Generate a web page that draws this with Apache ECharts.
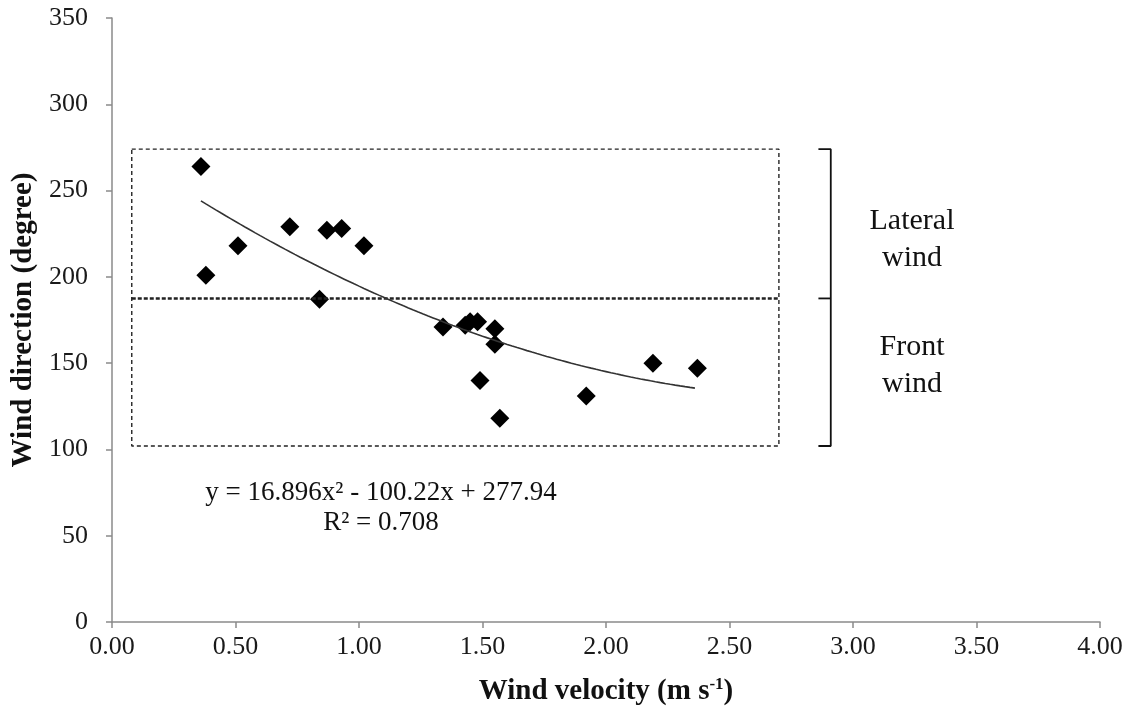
<!DOCTYPE html>
<html>
<head>
<meta charset="utf-8">
<script src="https://cdn.jsdelivr.net/npm/echarts@6/dist/echarts.min.js"></script>
<style>
  html, body { margin: 0; padding: 0; background: #fff; }
  #chart { width: 1134px; height: 718px; }
</style>
</head>
<body>
<div id="chart"></div>
<script>
// Measured wind velocity (m/s) and wind direction (degrees)
const windVelocity  = [0.36, 0.38, 0.51, 0.72, 0.87, 0.93, 1.02, 0.84, 1.34, 1.43, 1.45, 1.48, 1.55, 1.55, 1.49, 1.57, 1.92, 2.19, 2.37];
const windDirection = [264, 201, 218, 229, 227, 228, 218, 187, 171, 172, 174, 174, 170, 161, 140, 118, 131, 150, 147];

// Second-order polynomial fit: a*x^2 + b*x + c
const fitCoefficients = [16.896, -100.22, 277.94];
const fitR2 = 0.708;
const fitRange = [0.36, 2.36];

// Zone boundaries (degrees) and the x extent of the dashed box / bracket
const zoneTop = 274;
const zoneSplit = 187.5;
const zoneBottom = 102;
const boxX = [0.08, 2.70];
const bracketX = [2.86, 2.91];

const xTicks = { min: 0, max: 4, step: 0.5 };
const yTicks = { min: 0, max: 350, step: 50 };

const serif = '"Liberation Serif", "Times New Roman", serif';

const points = windVelocity.map((v, i) => [v, windDirection[i]]);

const [a, b, c] = fitCoefficients;
const fitLine = [];
for (let x = fitRange[0]; x <= fitRange[1] + 1e-9; x += 0.02) {
  fitLine.push([x, a * x * x + b * x + c]);
}

const boxOutline = [
  [boxX[0], zoneTop], [boxX[1], zoneTop], [boxX[1], zoneBottom],
  [boxX[0], zoneBottom], [boxX[0], zoneTop]
];
const splitLine = [[boxX[0], zoneSplit], [boxX[1], zoneSplit]];
const bracketLine = [
  [bracketX[0], zoneTop], [bracketX[1], zoneTop],
  [bracketX[1], zoneBottom], [bracketX[0], zoneBottom]
];
const bracketMid = [[bracketX[0], zoneSplit], [bracketX[1], zoneSplit]];

const eqText = 'y = ' + a + 'x² - ' + Math.abs(b) + 'x + ' + c;
const r2Text = 'R² = ' + fitR2;

const axisGray = '#8a8a8a';

const chart = echarts.init(document.getElementById('chart'));
chart.setOption({
  animation: false,
  backgroundColor: '#fff',
  grid: { left: 112, right: 34, top: 18, bottom: 96, containLabel: false, outerBoundsMode: 'none' },
  xAxis: {
    type: 'value',
    min: xTicks.min, max: xTicks.max, interval: xTicks.step,
    axisLine: { show: true, lineStyle: { color: axisGray, width: 1.5 } },
    axisTick: { show: true, length: 6, lineStyle: { color: axisGray, width: 1.5 } },
    splitLine: { show: false },
    axisLabel: {
      formatter: v => v.toFixed(2),
      fontFamily: serif, fontSize: 26, color: '#1a1a1a', margin: 12
    },
    name: '{t|Wind velocity (m s}{s|-1}{t|)}',
    nameLocation: 'middle',
    nameGap: 54,
    nameTextStyle: {
      rich: {
        t: { fontFamily: serif, fontSize: 29, fontWeight: 'bold', color: '#111', lineHeight: 32 },
        s: { fontFamily: serif, fontSize: 17, fontWeight: 'bold', color: '#111', verticalAlign: 'top', lineHeight: 32 }
      }
    }
  },
  yAxis: {
    type: 'value',
    min: yTicks.min, max: yTicks.max, interval: yTicks.step,
    axisLine: { show: true, lineStyle: { color: axisGray, width: 1.5 } },
    axisTick: { show: true, length: 6, lineStyle: { color: axisGray, width: 1.5 } },
    splitLine: { show: false },
    axisLabel: { fontFamily: serif, fontSize: 26, color: '#1a1a1a', margin: 24 },
    name: 'Wind direction (degree)',
    nameLocation: 'middle',
    nameRotate: 90,
    nameGap: 72,
    nameTextStyle: { fontFamily: serif, fontSize: 29, fontWeight: 'bold', color: '#111' }
  },
  series: [
    {
      type: 'line', data: boxOutline, symbol: 'none', silent: true,
      lineStyle: { color: '#222', width: 1.4, type: [4, 3] }
    },
    {
      type: 'line', data: splitLine, symbol: 'none', silent: true,
      lineStyle: { color: '#222', width: 2.6, type: [4, 2] }
    },
    {
      type: 'line', data: bracketLine, symbol: 'none', silent: true,
      lineStyle: { color: '#111', width: 1.8 }
    },
    {
      type: 'line', data: bracketMid, symbol: 'none', silent: true,
      lineStyle: { color: '#111', width: 1.8 }
    },
    {
      type: 'line', data: fitLine, symbol: 'none', smooth: false,
      lineStyle: { color: '#333', width: 1.6 }
    },
    {
      type: 'scatter', data: points, symbol: 'diamond', symbolSize: 19,
      itemStyle: { color: '#000', opacity: 1 }
    }
  ],
  graphic: [
    {
      type: 'text', x: 381, y: 478,
      style: {
        text: eqText + '\n' + r2Text, align: 'center', verticalAlign: 'top',
        font: '27px ' + serif, fill: '#111', lineHeight: 30
      }
    },
    {
      type: 'text', x: 912, y: 203,
      style: {
        text: 'Lateral\nwind', align: 'center', verticalAlign: 'top',
        font: '30px ' + serif, fill: '#111', lineHeight: 36.5
      }
    },
    {
      type: 'text', x: 912, y: 329,
      style: {
        text: 'Front\nwind', align: 'center', verticalAlign: 'top',
        font: '30px ' + serif, fill: '#111', lineHeight: 36.5
      }
    }
  ]
});
</script>
</body>
</html>
